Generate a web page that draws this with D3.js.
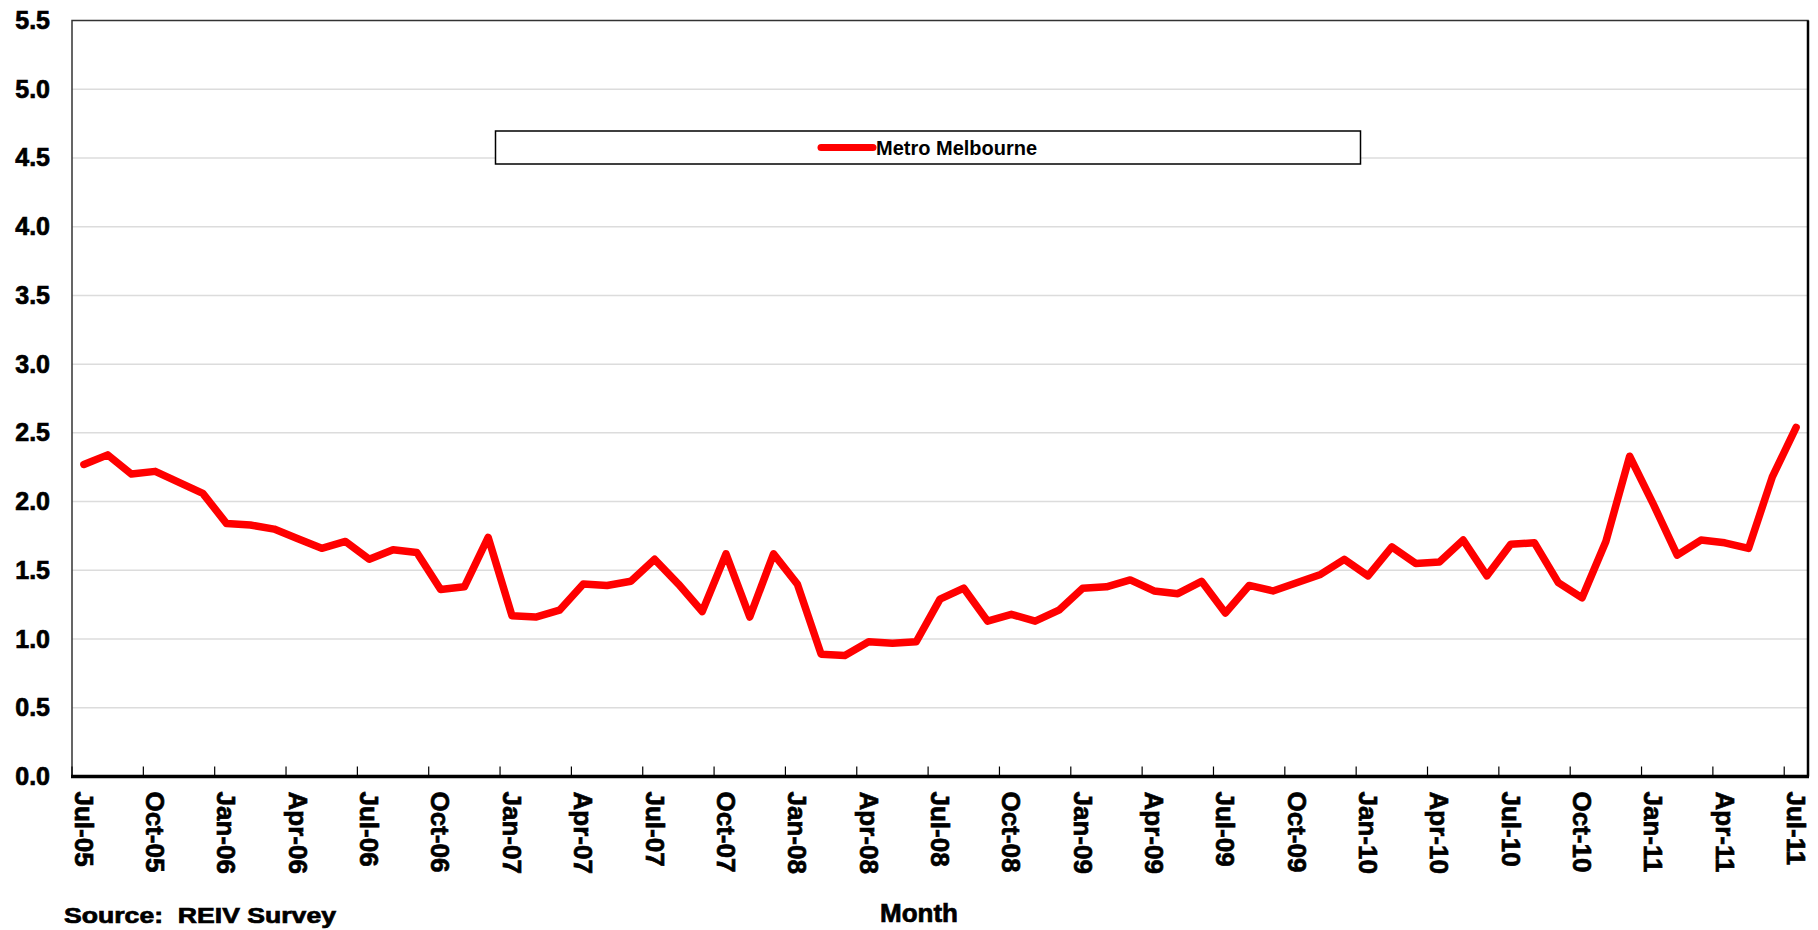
<!DOCTYPE html>
<html>
<head>
<meta charset="utf-8">
<script src="https://cdn.jsdelivr.net/npm/d3@7"></script>
<style>
  html, body { margin: 0; padding: 0; background: #fff; }
  svg { display: block; }
  text { font-family: "Liberation Sans", Arial, sans-serif; font-weight: bold; fill: #000; }
  .heavy { stroke: #000; stroke-width: 0.7px; }
</style>
</head>
<body>
<svg id="chart" width="1818" height="930"></svg>
<script>
// Monthly categories, Jul-05 to Jul-11
const categories = [
  "Jul-05","Aug-05","Sep-05","Oct-05","Nov-05","Dec-05",
  "Jan-06","Feb-06","Mar-06","Apr-06","May-06","Jun-06",
  "Jul-06","Aug-06","Sep-06","Oct-06","Nov-06","Dec-06",
  "Jan-07","Feb-07","Mar-07","Apr-07","May-07","Jun-07",
  "Jul-07","Aug-07","Sep-07","Oct-07","Nov-07","Dec-07",
  "Jan-08","Feb-08","Mar-08","Apr-08","May-08","Jun-08",
  "Jul-08","Aug-08","Sep-08","Oct-08","Nov-08","Dec-08",
  "Jan-09","Feb-09","Mar-09","Apr-09","May-09","Jun-09",
  "Jul-09","Aug-09","Sep-09","Oct-09","Nov-09","Dec-09",
  "Jan-10","Feb-10","Mar-10","Apr-10","May-10","Jun-10",
  "Jul-10","Aug-10","Sep-10","Oct-10","Nov-10","Dec-10",
  "Jan-11","Feb-11","Mar-11","Apr-11","May-11","Jun-11",
  "Jul-11"
];

// Metro Melbourne series
const metroMelbourne = [
  2.27, 2.34, 2.20, 2.22, 2.14, 2.06, 1.84, 1.83, 1.80, 1.73,
  1.66, 1.71, 1.58, 1.65, 1.63, 1.36, 1.38, 1.74, 1.17, 1.16,
  1.21, 1.40, 1.39, 1.42, 1.58, 1.40, 1.20, 1.62, 1.16, 1.62,
  1.40, 0.89, 0.88, 0.98, 0.97, 0.98, 1.29, 1.37, 1.13, 1.18,
  1.13, 1.21, 1.37, 1.38, 1.43, 1.35, 1.33, 1.42, 1.19, 1.39,
  1.35, 1.41, 1.47, 1.58, 1.46, 1.67, 1.55, 1.56, 1.72, 1.46,
  1.69, 1.70, 1.41, 1.30, 1.71, 2.33, 1.98, 1.61, 1.72, 1.70,
  1.66, 2.18, 2.54
];

// Labelled months on the category axis (quarterly)
const xTickLabels = [
  "Jul-05","Oct-05","Jan-06","Apr-06","Jul-06","Oct-06","Jan-07","Apr-07","Jul-07",
  "Oct-07","Jan-08","Apr-08","Jul-08","Oct-08","Jan-09","Apr-09","Jul-09","Oct-09",
  "Jan-10","Apr-10","Jul-10","Oct-10","Jan-11","Apr-11","Jul-11"
];

// Value axis ticks
const yTicks = [0, 0.5, 1.0, 1.5, 2.0, 2.5, 3.0, 3.5, 4.0, 4.5, 5.0, 5.5];

const seriesName = "Metro Melbourne";
const xTitle = "Month";
const sourceNote = "Source:  REIV Survey";

const svg = d3.select("#chart");

const plot = { left: 72, right: 1808, top: 20.5, bottom: 776.5 };

const x = d3.scaleBand()
  .domain(categories)
  .range([plot.left, plot.right])
  .paddingInner(0)
  .paddingOuter(0);
const xc = d => x(d) + x.bandwidth() / 2;

const y = d3.scaleLinear()
  .domain([0, 5.5])
  .range([plot.bottom, plot.top]);

// Horizontal gridlines
svg.append("g")
  .selectAll("line")
  .data(yTicks.filter(v => v > 0 && v < 5.5))
  .join("line")
  .attr("x1", plot.left)
  .attr("x2", plot.right)
  .attr("y1", d => y(d))
  .attr("y2", d => y(d))
  .attr("stroke", "#dcdcdc")
  .attr("stroke-width", 1.5);

// Plot area frame
svg.append("rect")
  .attr("x", plot.left)
  .attr("y", plot.top)
  .attr("width", plot.right - plot.left)
  .attr("height", plot.bottom - plot.top)
  .attr("fill", "none")
  .attr("stroke", "#333")
  .attr("stroke-width", 1.5);
svg.append("line")
  .attr("x1", plot.right).attr("x2", plot.right)
  .attr("y1", plot.top).attr("y2", plot.bottom)
  .attr("stroke", "#000").attr("stroke-width", 2.5);

// Value axis labels
const yAxis = d3.axisLeft(y)
  .tickValues(yTicks)
  .tickFormat(d3.format(".1f"))
  .tickSize(0)
  .tickPadding(22);
const gy = svg.append("g")
  .attr("transform", `translate(${plot.left},0)`)
  .call(yAxis);
gy.select(".domain").remove();
gy.selectAll("text")
  .attr("class", "heavy")
  .attr("font-size", 25)
  .attr("font-family", "Liberation Sans, Arial, sans-serif")
  .attr("font-weight", "bold")
  .attr("fill", "#000");

// Category axis: tick marks on quarter boundaries, labels at month centres
const tickCats = categories.filter((c, i) => i % 3 === 0);
svg.append("g")
  .selectAll("line")
  .data(tickCats)
  .join("line")
  .attr("x1", d => x(d))
  .attr("x2", d => x(d))
  .attr("y1", plot.bottom - 10)
  .attr("y2", plot.bottom)
  .attr("stroke", "#000")
  .attr("stroke-width", 1.2);

svg.append("line")
  .attr("x1", plot.left - 1)
  .attr("x2", plot.right + 1)
  .attr("y1", plot.bottom)
  .attr("y2", plot.bottom)
  .attr("stroke", "#000")
  .attr("stroke-width", 3.5);

svg.append("g")
  .selectAll("text")
  .data(xTickLabels)
  .join("text")
  .attr("class", "heavy")
  .attr("transform", d => `translate(${xc(d)},${plot.bottom + 15}) rotate(90)`)
  .attr("dy", "0.35em")
  .attr("text-anchor", "start")
  .attr("font-size", 26)
  .text(d => d);

// Series line
const line = d3.line()
  .x((d, i) => xc(categories[i]))
  .y(d => y(d));

svg.append("path")
  .datum(metroMelbourne)
  .attr("d", line)
  .attr("fill", "none")
  .attr("stroke", "#ff0000")
  .attr("stroke-width", 7.5)
  .attr("stroke-linejoin", "round")
  .attr("stroke-linecap", "round");

// Legend
const legend = svg.append("g");
legend.append("rect")
  .attr("x", 495.5).attr("y", 131)
  .attr("width", 865).attr("height", 33)
  .attr("fill", "#fff")
  .attr("stroke", "#000")
  .attr("stroke-width", 1.5);
legend.append("line")
  .attr("x1", 821).attr("x2", 873)
  .attr("y1", 147.5).attr("y2", 147.5)
  .attr("stroke", "#ff0000")
  .attr("stroke-width", 7)
  .attr("stroke-linecap", "round");
legend.append("text")
  .attr("x", 876).attr("y", 147.5)
  .attr("dy", "0.35em")
  .attr("font-size", 20)
  .text(seriesName);

// Axis title and source note
svg.append("text")
  .attr("class", "heavy")
  .attr("x", 919).attr("y", 922)
  .attr("text-anchor", "middle")
  .attr("font-size", 26)
  .text(xTitle);

svg.append("text")
  .attr("class", "heavy")
  .attr("x", 64).attr("y", 923)
  .attr("font-size", 22)
  .attr("textLength", 272)
  .attr("lengthAdjust", "spacingAndGlyphs")
  .style("white-space", "pre")
  .text(sourceNote);
</script>
</body>
</html>
